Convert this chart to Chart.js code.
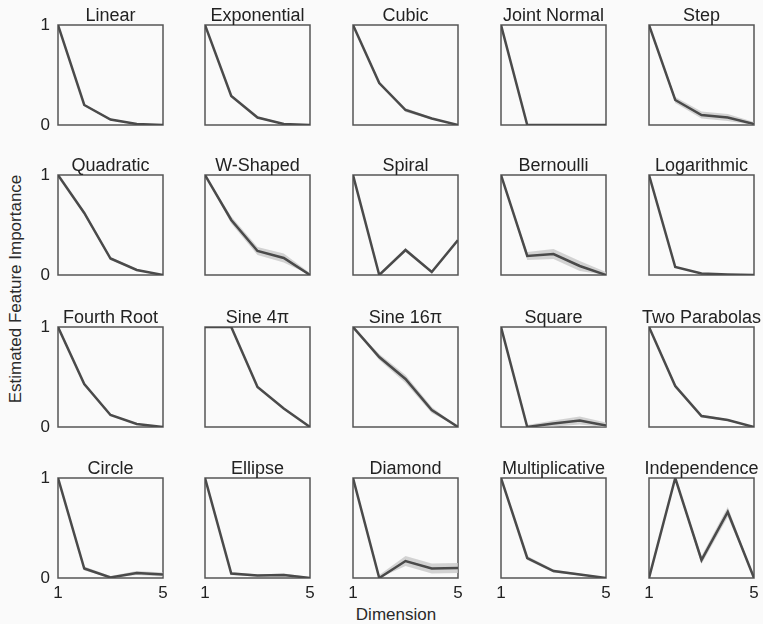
<!DOCTYPE html>
<html>
<head>
<meta charset="utf-8">
<script src="https://cdn.jsdelivr.net/npm/chart.js@4.4.1/dist/chart.umd.min.js"></script>
<style>
  html, body { margin: 0; padding: 0; background: #fafafa; }
  #wrap { position: relative; width: 763px; height: 624px; background: #fafafa; font-family: "Liberation Sans", Arial, sans-serif; }
  canvas { position: absolute; }
  .axt { position: absolute; font-size: 17px; color: #2a2a2a; white-space: nowrap; }
</style>
</head>
<body>
<div id="wrap">
  <div class="axt" id="ylab" style="left:16px; top:289px; transform: translate(-50%,-50%) rotate(-90deg);">Estimated Feature Importance</div>
  <div class="axt" id="xlab" style="left:396px; top:615px; transform: translate(-50%,-50%);">Dimension</div>
</div>
<script>
const dims = [1, 2, 3, 4, 5];
const xTicks = [1, 5];
const yTicks = [0, 1];
const titles = [
  "Linear", "Exponential", "Cubic", "Joint Normal", "Step",
  "Quadratic", "W-Shaped", "Spiral", "Bernoulli", "Logarithmic",
  "Fourth Root", "Sine 4\u03c0", "Sine 16\u03c0", "Square", "Two Parabolas",
  "Circle", "Ellipse", "Diamond", "Multiplicative", "Independence"
];
const meanValues = [
  [1, 0.2, 0.055, 0.01, 0],
  [1, 0.29, 0.075, 0.01, 0],
  [1, 0.42, 0.15, 0.065, 0],
  [1, 0, 0, 0, 0],
  [1, 0.25, 0.1, 0.075, 0.01],
  [1, 0.62, 0.165, 0.05, 0],
  [1, 0.55, 0.24, 0.17, 0],
  [1, 0, 0.25, 0.03, 0.35],
  [1, 0.19, 0.21, 0.09, 0],
  [1, 0.08, 0.015, 0.005, 0],
  [1, 0.43, 0.12, 0.03, 0],
  [1, 1, 0.4, 0.185, 0],
  [1, 0.7, 0.48, 0.17, 0],
  [1, 0, 0.035, 0.065, 0.015],
  [1, 0.41, 0.11, 0.07, 0],
  [1, 0.095, 0.005, 0.05, 0.035],
  [1, 0.045, 0.025, 0.03, 0],
  [1, 0, 0.17, 0.095, 0.1],
  [1, 0.2, 0.07, 0.035, 0],
  [0, 1, 0.18, 0.66, 0]
];
const bandHalfWidth = [
  [0, 0.01, 0.01, 0.005, 0],
  [0, 0.01, 0.01, 0.005, 0],
  [0, 0.015, 0.02, 0.01, 0],
  [0, 0, 0, 0, 0],
  [0, 0.03, 0.035, 0.035, 0.02],
  [0, 0.02, 0.015, 0.01, 0],
  [0, 0.035, 0.04, 0.045, 0.02],
  [0, 0.005, 0.02, 0.01, 0.01],
  [0, 0.04, 0.05, 0.05, 0.03],
  [0, 0.005, 0.005, 0.003, 0],
  [0, 0.01, 0.01, 0.005, 0],
  [0, 0, 0.01, 0.01, 0],
  [0, 0.03, 0.04, 0.03, 0],
  [0, 0.02, 0.03, 0.04, 0.03],
  [0, 0.02, 0.015, 0.01, 0],
  [0, 0.02, 0.015, 0.02, 0.02],
  [0, 0.015, 0.01, 0.015, 0.01],
  [0, 0.03, 0.05, 0.05, 0.05],
  [0, 0.02, 0.015, 0.01, 0.005],
  [0.01, 0.02, 0.04, 0.05, 0.01]
];

const plotLefts = [58, 205, 353, 501, 649];
const plotTops = [25, 175, 327, 478];
const plotW = 105, plotH = 100;
const padL = 30, padT = 25, padR = 12, padB = 25;

const framePlugin = {
  id: 'frame',
  beforeDatasetsDraw(chart) {
    const a = chart.chartArea, ctx = chart.ctx;
    ctx.save();
    ctx.strokeStyle = '#555555';
    ctx.lineWidth = 1.5;
    ctx.strokeRect(a.left, a.top, a.right - a.left, a.bottom - a.top);
    ctx.restore();
  },
  afterDraw(chart) {
    const a = chart.chartArea, ctx = chart.ctx;
    ctx.save();
    ctx.fillStyle = '#222222';
    ctx.font = '18px "Liberation Sans", Arial, sans-serif';
    ctx.textAlign = 'center';
    ctx.textBaseline = 'alphabetic';
    ctx.fillText(chart.options.plugins.panelTitle.text, (a.left + a.right) / 2, a.top - 4);
    ctx.restore();
  }
};

const wrap = document.getElementById('wrap');
titles.forEach((t, i) => {
  const r = Math.floor(i / 5), c = i % 5;
  const cv = document.createElement('canvas');
  const w = padL + plotW + padR, h = padT + plotH + padB;
  cv.width = w; cv.height = h;
  cv.style.left = (plotLefts[c] - padL) + 'px';
  cv.style.top = (plotTops[r] - padT) + 'px';
  cv.style.width = w + 'px'; cv.style.height = h + 'px';
  wrap.appendChild(cv);
  const m = meanValues[i], hw = bandHalfWidth[i];
  const lower = dims.map((d, k) => ({ x: d, y: Math.max(0, m[k] - hw[k]) }));
  const upper = dims.map((d, k) => ({ x: d, y: Math.min(1, m[k] + hw[k]) }));
  const line = dims.map((d, k) => ({ x: d, y: m[k] }));
  const showY = c === 0, showX = r === 3;
  new Chart(cv, {
    type: 'line',
    data: {
      datasets: [
        { data: lower, order: 2, borderWidth: 0, pointRadius: 0, fill: false, borderColor: 'rgba(0,0,0,0)' },
        { data: upper, order: 1, borderWidth: 0, pointRadius: 0, fill: '-1', backgroundColor: 'rgba(200,200,200,0.8)', borderColor: 'rgba(0,0,0,0)' },
        { data: line, order: 0, borderWidth: 2.5, pointRadius: 0, fill: false, borderColor: '#4a4a4a', tension: 0 }
      ]
    },
    options: {
      responsive: false,
      animation: false,
      events: [],
      layout: { padding: { top: padT, right: padR, left: 0, bottom: 0 } },
      plugins: { legend: { display: false }, tooltip: { enabled: false }, panelTitle: { text: t } },
      scales: {
        x: {
          type: 'linear', min: 1, max: 5,
          grid: { display: false, drawTicks: false },
          border: { display: false },
          afterBuildTicks(s) { s.ticks = xTicks.map(v => ({ value: v })); },
          afterFit(s) { s.height = padB; },
          ticks: {
            display: showX, padding: 5, color: '#222',
            font: { size: 17, family: '"Liberation Sans", Arial, sans-serif' },
            maxRotation: 0, autoSkip: false,
            callback: v => String(v)
          }
        },
        y: {
          type: 'linear', min: 0, max: 1,
          grid: { display: false, drawTicks: false },
          border: { display: false },
          afterBuildTicks(s) { s.ticks = yTicks.map(v => ({ value: v })); },
          afterFit(s) { s.width = padL; },
          ticks: {
            display: showY, padding: 8, color: '#222',
            font: { size: 17, family: '"Liberation Sans", Arial, sans-serif' },
            autoSkip: false,
            callback: v => String(v)
          }
        }
      }
    },
    plugins: [framePlugin]
  });
});
</script>
</body>
</html>
